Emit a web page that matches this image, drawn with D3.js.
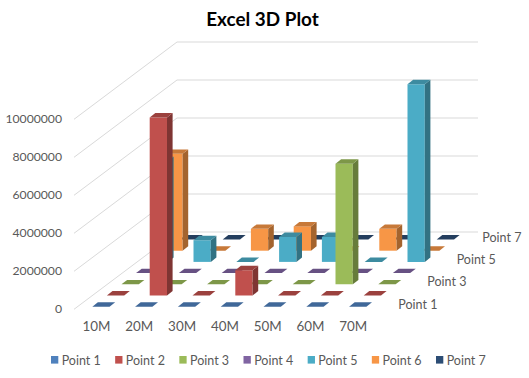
<!DOCTYPE html>
<html>
<head>
<meta charset="utf-8">
<title>Excel 3D Plot</title>
<script src="https://cdn.jsdelivr.net/npm/d3@7"></script>
<style>
  html, body { margin: 0; padding: 0; background: #fff; }
  svg { display: block; }
  text { font-family: Lato, "Open Sans", sans-serif; fill: #595959; }
</style>
</head>
<body>
<div id="chart"></div>
<script>
// values
var categories = ["10M", "20M", "30M", "40M", "50M", "60M", "70M"];
var seriesNames = ["Point 1", "Point 2", "Point 3", "Point 4", "Point 5", "Point 6", "Point 7"];
var depthLabels = ["Point 1", "Point 3", "Point 5", "Point 7"];
var valueTicks = [0, 2000000, 4000000, 6000000, 8000000, 10000000];

var point1 = [0, 0, 0, 0, 0, 0, 0];
var point2 = [0, 9370000, 0, 1330000, 0, 0, 0];
var point3 = [0, 0, 0, 0, 0, 6350000, 0];
var point4 = [0, 0, 0, 0, 0, 0, 0];
var point5 = [5300000, 1140000, 0, 1310000, 1310000, 0, 9350000];
var point6 = [5100000, 0, 1150000, 1280000, 0, 1150000, 0];
var point7 = [0, 0, 0, 0, 0, 0, 0];
var seriesValues = [point1, point2, point3, point4, point5, point6, point7];

var colors = ["#4f81bd", "#c0504d", "#9bbb59", "#8064a2", "#4bacc6", "#f79646", "#2c4d75"];

var width = 529, height = 378;
var barW = 17.3, barDx = 5.6, barDy = 4.4;
var baseY = 306.7;

var svg = d3.select("#chart").append("svg").attr("width", width).attr("height", height);

// scales: category runs left to right, series runs into the page
var x = d3.scalePoint().domain(categories).range([92.3, 349.1]);
var depthX = d3.scalePoint().domain(seriesNames).range([0, 87.6]);
var depthY = d3.scalePoint().domain(seriesNames).range([0, -67.2]);
var rise = d3.scaleLinear().domain([0, 10000000]).range([0, 190]);

// gridlines on the side and back walls
var wallFront = 74, wallBack = 177, wallRight = 478, wallFloorFront = 309.3, wallFloorBack = 232;
var grid = svg.append("g").attr("fill", "none").attr("stroke", "#d9d9d9").attr("stroke-width", 1);
valueTicks.forEach(function (v) {
  grid.append("polyline")
    .attr("points", [
      [wallFront, wallFloorFront - rise(v)],
      [wallBack, wallFloorBack - rise(v)],
      [wallRight, wallFloorBack - rise(v)]
    ].join(" "));
});

function poly(g, pts, fill) {
  g.append("polygon").attr("points", pts.join(" ")).attr("fill", fill);
}

// back series first so the nearer bars cover them
var bars = svg.append("g");
d3.range(seriesNames.length - 1, -1, -1).forEach(function (s) {
  var name = seriesNames[s];
  var front = d3.color(colors[s]);
  var top = front.darker(0.6);
  var side = front.darker(1.15);
  categories.forEach(function (c, i) {
    var v = seriesValues[s][i];
    var x0 = x(c) + depthX(name);
    var y0 = baseY + depthY(name);
    var y1 = y0 - rise(v);
    var g = bars.append("g");
    if (v > 0) {
      poly(g, [[x0, y0], [x0 + barW, y0], [x0 + barW, y1], [x0, y1]], front);
      poly(g, [[x0 + barW, y0], [x0 + barW + barDx, y0 - barDy], [x0 + barW + barDx, y1 - barDy], [x0 + barW, y1]], side);
    }
    poly(g, [[x0, y1], [x0 + barW, y1], [x0 + barW + barDx, y1 - barDy], [x0 + barDx, y1 - barDy]], top);
  });
});

// value axis
var yAxisScale = d3.scaleLinear().domain([0, 10000000]).range([308.5, 118.5]);
var yAxis = svg.append("g").attr("transform", "translate(65,0)")
  .call(d3.axisLeft(yAxisScale).tickValues(valueTicks).tickSize(0).tickPadding(3).tickFormat(d3.format("d")));
yAxis.select(".domain").remove();
yAxis.selectAll(".tick text").style("font-size", "12.2px");

// category axis
var xAxisScale = d3.scalePoint().domain(categories).range([96, 352.8]);
var xAxis = svg.append("g").attr("transform", "translate(0,321)")
  .call(d3.axisBottom(xAxisScale).tickSize(0).tickPadding(0));
xAxis.select(".domain").remove();
xAxis.selectAll(".tick text").style("font-size", "13.4px");

// depth axis labels
var depthLabelX = d3.scaleOrdinal().domain(depthLabels).range([398.3, 427.3, 456.7, 482.3]);
var depthLabelY = d3.scaleOrdinal().domain(depthLabels).range([304.2, 281.7, 259.5, 237.8]);
svg.append("g").selectAll("text").data(depthLabels).enter().append("text")
  .attr("x", function (d) { return depthLabelX(d); })
  .attr("y", function (d) { return depthLabelY(d); })
  .attr("dy", "0.35em")
  .style("font-size", "12.5px")
  .text(function (d) { return d; });

// legend
var legendX = d3.scalePoint().domain(seriesNames).range([51, 436]);
var legend = svg.append("g").selectAll("g").data(seriesNames).enter().append("g")
  .attr("transform", function (d) { return "translate(" + legendX(d) + ",356)"; });
legend.append("rect").attr("width", 7.3).attr("height", 7.6)
  .attr("fill", function (d, i) { return colors[i]; });
legend.append("text").attr("x", 10.7).attr("y", 4.6).attr("dy", "0.35em")
  .style("font-size", "12.5px")
  .text(function (d) { return d; });

// title
svg.append("text").attr("x", 262.5).attr("y", 26)
  .attr("text-anchor", "middle")
  .style("font-size", "18.9px").style("font-weight", "700").style("fill", "#000")
  .text("Excel 3D Plot");
</script>
</body>
</html>
